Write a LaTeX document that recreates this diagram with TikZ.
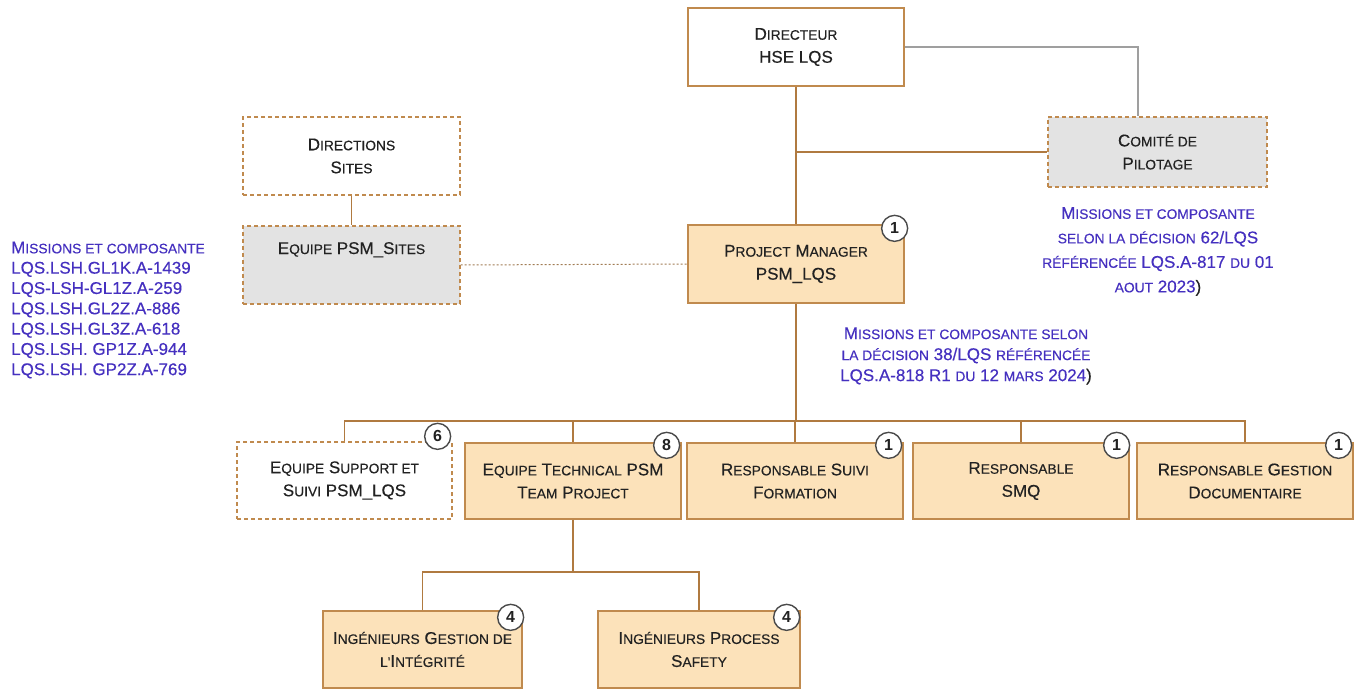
\documentclass[tikz,border=0pt]{standalone}
\usepackage{fontspec}
\setmainfont{Liberation Sans}
\newfontfamily\heavy{Liberation Sans}[FakeBold=0.35]
\usetikzlibrary{calc}

\definecolor{peach}{HTML}{FCE2BA}
\definecolor{edge}{HTML}{C08A4E}
\definecolor{wire}{HTML}{B07A40}
\definecolor{greyfill}{HTML}{E3E3E3}
\definecolor{ink}{HTML}{222222}
\definecolor{notecol}{HTML}{4530C0}
\definecolor{ring}{HTML}{4A4A4A}

% faux small capitals: the remaining letters of a word, set smaller
\newcommand\sm[1]{{\fontsize{13.8}{14}\selectfont #1}}

\tikzset{
  unit/.style={draw=edge, line width=1.3pt, inner sep=0pt, align=center,
    text=ink, font=\heavy\fontsize{17}{23}\selectfont,
    minimum width=216pt, minimum height=78pt},
  solidunit/.style={unit, fill=peach},
  plainunit/.style={unit, fill=white},
  looseunit/.style={unit, dash pattern=on 4pt off 3pt},
  count/.style={circle, draw=ring, line width=1.4pt, fill=white,
    minimum size=26pt, inner sep=0pt,
    font=\fontsize{16}{16}\selectfont\bfseries, text=ink},
  link/.style={draw=wire, line width=1.3pt},
  greylink/.style={draw=gray!75, line width=1.3pt},
  dotlink/.style={draw=wire!70!gray, line width=1pt, dash pattern=on 2pt off 2pt},
  remark/.style={text=notecol, inner sep=0pt}
}

\begin{document}
\begin{tikzpicture}[x=1pt, y=-1pt]
\useasboundingbox[fill=white] (0,0) rectangle (1361,690);

% --- top of the organisation
\node[plainunit] (dir) at (796,47) {D\sm{IRECTEUR}\\HSE LQS};
\node[looseunit, fill=greyfill, minimum width=219pt, minimum height=70pt]
  (com) at (1157.5,152) {C\sm{OMITÉ DE}\\P\sm{ILOTAGE}};
\node[looseunit, fill=white, minimum width=217pt] (dirs) at (351.5,156)
  {D\sm{IRECTIONS}\\S\sm{ITES}};
\node[looseunit, fill=greyfill, minimum width=217pt, text height=19pt, text depth=41pt]
  (eqs) at (351.5,265) {E\sm{QUIPE} PSM\_S\sm{ITES}};
\node[solidunit] (pm) at (796,264) {P\sm{ROJECT} M\sm{ANAGER}\\PSM\_LQS};

% --- second level
\node[looseunit, fill=white, minimum width=215pt, minimum height=77pt] (sup) at (344.5,480.5)
  {E\sm{QUIPE} S\sm{UPPORT ET}\\S\sm{UIVI} PSM\_LQS};
\node[solidunit, minimum height=76pt] (tech) at (573,481)
  {E\sm{QUIPE} T\sm{ECHNICAL} PSM\\T\sm{EAM} P\sm{ROJECT}};
\node[solidunit, minimum height=76pt] (form) at (795,481)
  {R\sm{ESPONSABLE} S\sm{UIVI}\\F\sm{ORMATION}};
\node[solidunit, minimum height=76pt] (smq) at (1021,481)
  {R\sm{ESPONSABLE}\\SMQ};
\node[solidunit, minimum height=76pt] (gest) at (1245,481)
  {R\sm{ESPONSABLE} G\sm{ESTION}\\D\sm{OCUMENTAIRE}};

% --- engineers
\node[solidunit, minimum width=199pt, minimum height=77pt] (ing1) at (422.5,649.5)
  {I\sm{NGÉNIEURS} G\sm{ESTION DE}\\\sm{L'}I\sm{NTÉGRITÉ}};
\node[solidunit, minimum width=202pt, minimum height=77pt] (ing2) at (699,649.5)
  {I\sm{NGÉNIEURS} P\sm{ROCESS}\\S\sm{AFETY}};

% --- connectors
\draw[link] (dir.south) -- (pm.north);
\draw[link] (dir.south |- com.west) -- (com.west);
\draw[greylink] (dir.east) -| ([xshift=-19.5pt]com.north);
\draw[link] (dirs.south) -- (eqs.north);
\draw[dotlink] (eqs.east) -- (pm.west);

\coordinate (bus) at (0,421);
\draw[link] (pm.south) -- (pm.south |- bus);
\draw[link, line cap=rect] (sup.north |- bus) -- (gest.north |- bus);
\foreach \n in {sup,tech,form,smq,gest}
  \draw[link] (\n.north) -- (\n.north |- bus);

\coordinate (sub) at (0,572);
\draw[link] (tech.south) -- (tech.south |- sub);
\draw[link, line cap=rect] (ing1.north |- sub) -- (ing2.north |- sub);
\foreach \n in {ing1,ing2}
  \draw[link] (\n.north) -- (\n.north |- sub);

% --- head counts
\node[count] (cpm)   at ($(pm.north east)+(-10,4)$) {1};
\node[count] (csup)  at ($(sup.north east)+(-15,-5)$) {6};
\node[count] (ctech) at ($(tech.north east)+(-15,3)$) {8};
\node[count] (cform) at ($(form.north east)+(-15,3)$) {1};
\node[count] (csmq)  at ($(smq.north east)+(-13,3)$) {1};
\node[count] (cgest) at ($(gest.north east)+(-15,3)$) {1};
\node[count] (cing1) at ($(ing1.north east)+(-12,7)$) {4};
\node[count] (cing2) at ($(ing2.north east)+(-14,7)$) {4};

% --- references of the missions
\node[remark, anchor=west, align=left, font=\heavy\fontsize{17}{20.3}\selectfont] (refs) at (11,310)
  {M\sm{ISSIONS ET COMPOSANTE}\\
   LQS.LSH.GL1K.A-1439\\
   LQS-LSH-GL1Z.A-259\\
   LQS.LSH.GL2Z.A-886\\
   LQS.LSH.GL3Z.A-618\\
   LQS.LSH. GP1Z.A-944\\
   LQS.LSH. GP2Z.A-769};
\node[remark, align=center, font=\heavy\fontsize{17}{24.5}\selectfont] (refcom) at (1158,251.5)
  {M\sm{ISSIONS ET COMPOSANTE}\\
   \sm{SELON LA DÉCISION} 62/LQS\\
   \sm{RÉFÉRENCÉE} LQS.A-817 \sm{DU} 01\\
   \sm{AOUT} 2023\textcolor{ink}{)}};
\node[remark, align=center, font=\heavy\fontsize{17}{21}\selectfont] (refpm) at (966,356)
  {M\sm{ISSIONS ET COMPOSANTE SELON}\\
   \sm{LA DÉCISION} 38/LQS \sm{RÉFÉRENCÉE}\\
   LQS.A-818 R1 \sm{DU} 12 \sm{MARS} 2024\textcolor{ink}{)}};
\end{tikzpicture}
\end{document}
